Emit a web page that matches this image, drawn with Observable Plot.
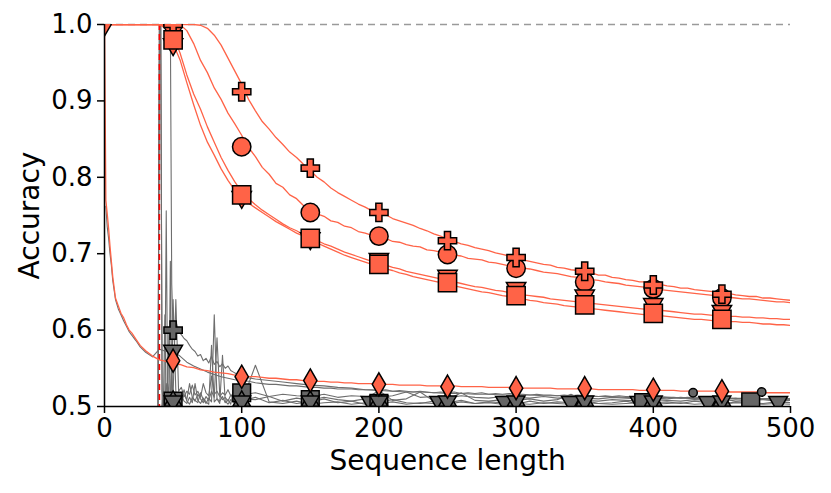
<!DOCTYPE html>
<html>
<head>
<meta charset="utf-8">
<script src="https://cdn.jsdelivr.net/npm/d3@7"></script>
<script src="https://cdn.jsdelivr.net/npm/@observablehq/plot@0.6"></script>
<style>
  html, body { margin: 0; padding: 0; background: #fff; }
  #chart { width: 831px; height: 493px; }
</style>
</head>
<body>
<div id="chart"></div>
<script>
// ---------- tick labels ----------
const xTicks = [0, 100, 200, 300, 400, 500];
const yTicks = [0.5, 0.6, 0.7, 0.8, 0.9, 1.0];

// ---------- red series (x = 0,5,...,500) ----------
const xGrid = d3.range(0, 501, 5);
const plusLine = [
  1,1,1,1,1,1,1,1,1,1,
  1,1,1,1,0.999,0.995,0.986,0.973,0.956,0.939,
  0.922,0.902,0.887,0.873,0.863,0.852,0.843,0.833,0.826,0.817,
  0.809,0.800,0.794,0.786,0.780,0.775,0.770,0.765,0.761,0.756,
  0.752,0.751,0.746,0.743,0.740,0.737,0.733,0.730,0.726,0.723,
  0.719,0.716,0.713,0.711,0.708,0.706,0.704,0.701,0.699,0.697,
  0.694,0.692,0.690,0.688,0.686,0.685,0.682,0.681,0.679,0.678,
  0.676,0.675,0.672,0.672,0.669,0.668,0.666,0.665,0.663,0.663,
  0.661,0.660,0.658,0.657,0.655,0.655,0.653,0.652,0.651,0.650,
  0.648,0.648,0.646,0.645,0.644,0.644,0.642,0.642,0.641,0.640,
  0.639
];
const circleLine = [
  1,1,1,1,1,1,1,1,1,1,
  1,1,0.992,0.975,0.953,0.937,0.917,0.902,0.884,0.870,
  0.855,0.839,0.827,0.813,0.804,0.792,0.787,0.777,0.772,0.763,
  0.758,0.752,0.749,0.743,0.741,0.736,0.734,0.729,0.727,0.724,
  0.721,0.720,0.716,0.715,0.712,0.710,0.709,0.705,0.704,0.702,
  0.700,0.698,0.697,0.694,0.693,0.692,0.689,0.688,0.686,0.684,
  0.682,0.681,0.680,0.678,0.676,0.675,0.674,0.672,0.670,0.669,
  0.667,0.666,0.665,0.663,0.662,0.661,0.659,0.658,0.657,0.656,
  0.654,0.653,0.652,0.651,0.650,0.649,0.648,0.647,0.646,0.645,
  0.644,0.643,0.642,0.641,0.641,0.640,0.639,0.638,0.637,0.637,
  0.636
];
const triLine = [
  1,1,1,1,1,1,1,1,1,0.998,
  0.985,0.963,0.934,0.909,0.889,0.866,0.846,0.826,0.809,0.794,
  0.781,0.772,0.764,0.757,0.751,0.745,0.739,0.734,0.730,0.725,
  0.721,0.717,0.713,0.710,0.706,0.702,0.699,0.696,0.693,0.690,
  0.687,0.685,0.682,0.680,0.677,0.675,0.673,0.671,0.669,0.667,
  0.665,0.663,0.661,0.659,0.657,0.656,0.654,0.652,0.651,0.649,
  0.648,0.646,0.645,0.644,0.643,0.641,0.640,0.639,0.638,0.637,
  0.636,0.635,0.634,0.633,0.632,0.631,0.630,0.629,0.628,0.627,
  0.626,0.626,0.625,0.624,0.623,0.622,0.621,0.621,0.620,0.619,
  0.619,0.618,0.618,0.617,0.617,0.616,0.616,0.615,0.615,0.614,
  0.614
];
const squareLine = [
  1,1,1,1,1,1,1,1,1,0.994,
  0.975,0.954,0.924,0.895,0.868,0.846,0.829,0.811,0.796,0.783,
  0.774,0.766,0.760,0.754,0.748,0.742,0.737,0.732,0.727,0.723,
  0.718,0.714,0.710,0.706,0.702,0.698,0.695,0.692,0.689,0.686,
  0.683,0.680,0.678,0.675,0.673,0.670,0.668,0.666,0.664,0.662,
  0.660,0.658,0.656,0.654,0.652,0.650,0.649,0.647,0.645,0.644,
  0.642,0.641,0.639,0.638,0.636,0.635,0.634,0.632,0.631,0.630,
  0.629,0.628,0.627,0.626,0.625,0.624,0.623,0.622,0.621,0.620,
  0.619,0.619,0.618,0.617,0.616,0.615,0.614,0.614,0.613,0.612,
  0.612,0.611,0.611,0.610,0.610,0.609,0.608,0.608,0.607,0.607,
  0.606
];

// diamond series and the gray series that follows it (own x grid)
const xDiamond = [0,1,2,3,4,5,6,8,10,12,14,16,18,20,23,26,30,35,40,45].concat(d3.range(50, 501, 5));
const diamondLine = [
  1.0,0.770,0.752,0.733,0.710,0.690,0.670,0.642,0.632,0.622,0.616,0.607,0.600,0.596,0.588,0.580,0.573,0.566,0.561,0.559,
  0.556,0.555,0.552,0.551,0.548,0.547,0.545,0.544,0.543,0.541,
  0.540,0.539,0.539,0.538,0.537,0.537,0.536,0.535,0.535,0.534,
  0.534,0.533,0.533,0.532,0.532,0.531,0.531,0.530,0.530,0.530,
  0.529,0.529,0.529,0.528,0.528,0.528,0.528,0.527,0.527,0.527,
  0.527,0.527,0.526,0.526,0.526,0.526,0.525,0.525,0.525,0.525,
  0.525,0.524,0.524,0.524,0.524,0.524,0.523,0.523,0.523,0.523,
  0.523,0.523,0.522,0.522,0.522,0.522,0.522,0.522,0.521,0.521,
  0.521,0.521,0.521,0.521,0.520,0.520,0.520,0.520,0.520,0.520,
  0.519,0.519,0.519,0.519,0.519,0.519,0.518,0.518,0.518,0.518,
  0.518
];
const grayFollow = [
  null,0.762,0.735,0.720,0.700,0.685,0.665,0.640,0.628,0.620,0.612,0.605,0.598,0.593,0.586,0.578,0.571,0.565,0.575,0.572,
  0.572,0.566,0.558,0.553,0.549,0.545,0.542,0.539,0.537,0.535,
  0.534,0.533,0.531,0.530,0.529,0.529,0.528,0.527,0.527,0.526,
  0.525,0.525,0.524,0.524,0.523,0.523,0.523,0.522,0.522,0.522,
  0.521,0.522,0.520,0.521,0.520,0.519,0.520,0.519,0.518,0.519,
  0.518,0.519,0.517,0.518,0.517,0.518,0.516,0.517,0.516,0.517,
  0.516,0.516,0.515,0.516,0.515,0.515,0.514,0.515,0.514,0.515,
  0.514,0.514,0.513,0.514,0.513,0.514,0.513,0.513,0.512,0.513,
  0.512,0.513,0.512,0.512,0.511,0.512,0.511,0.512,0.511,0.511,
  0.511,0.511,0.510,0.511,0.510,0.511,0.510,0.510,0.510,0.510,
  0.509
];

// ---------- gray series ----------
const xGray = [39,40,41,42,43,44,45,46,47,48,49,
  50,52,54,56,58,60,62,64,66,68,70,72,74,76,78,80,82,84,86,88,90,92,94,96,98]
  .concat(d3.range(100, 501, 10));
const grayA = [
  0.5,1.0,1.0,1.0,1.0,1.0,1.0,1.0,1.0,1.0,0.66,
  0.600,0.612,0.598,0.594,0.589,0.586,0.580,0.575,0.572,0.566,0.568,0.560,0.563,0.557,0.566,0.555,0.559,0.552,0.556,0.550,0.553,0.547,0.545,0.543,0.541,
  0.539,0.536,0.534,0.532,0.530,0.528,0.527,0.525,0.524,0.522,
  0.521,0.520,0.519,0.519,0.518,0.517,0.517,0.516,0.516,0.515,
  0.515,0.515,0.514,0.514,0.514,0.513,0.513,0.513,0.512,0.512,
  0.512,0.512,0.511,0.511,0.511,0.511,0.510,0.510,0.510,0.510,
  0.510
];
const grayB = [
  0.5,1.0,1.0,0.5,0.503,0.510,0.756,0.512,0.505,0.510,0.503,
  0.506,0.515,0.504,0.510,0.522,0.507,0.503,0.512,0.508,0.505,0.518,0.509,0.504,0.511,0.506,0.620,0.510,0.507,0.513,0.505,0.509,0.503,0.520,0.508,0.506,
  0.507,0.512,0.505,0.508,0.504,0.506,0.510,0.505,0.507,0.503,
  0.506,0.509,0.505,0.504,0.507,0.505,0.508,0.504,0.506,0.505,
  0.503,0.507,0.504,0.506,0.505,0.508,0.504,0.505,0.507,0.503,
  0.505,0.506,0.504,0.507,0.505,0.503,0.506,0.505,0.504,0.506,
  0.505
];
const grayC = [
  0.5,0.95,1.0,0.52,0.505,0.515,0.508,0.530,0.510,0.690,0.515,
  0.640,0.520,0.511,0.506,0.515,0.509,0.530,0.512,0.507,0.516,0.510,0.505,0.513,0.508,0.520,0.512,0.590,0.515,0.509,0.512,0.507,0.515,0.510,0.506,0.512,
  0.510,0.509,0.513,0.507,0.511,0.508,0.512,0.509,0.507,0.510,
  0.521,0.508,0.510,0.519,0.507,0.509,0.518,0.508,0.507,0.509,
  0.508,0.510,0.507,0.509,0.516,0.508,0.507,0.509,0.508,0.507,
  0.509,0.508,0.507,0.509,0.508,0.510,0.507,0.508,0.509,0.507,
  0.508
];
const grayD = [
  null,null,null,0.5,0.510,0.620,0.505,0.520,0.503,0.510,0.550,
  0.505,0.510,0.503,0.515,0.507,0.504,0.512,0.505,0.530,0.508,0.504,0.511,0.506,0.503,0.580,0.506,0.510,0.504,0.567,0.507,0.503,0.509,0.505,0.510,0.504,
  0.505,0.554,0.506,0.504,0.507,0.503,0.505,0.506,0.503,0.505,
  0.504,0.506,0.503,0.505,0.504,0.503,0.506,0.504,0.505,0.503,
  0.504,0.503,0.505,0.504,0.503,0.505,0.504,0.503,0.504,0.505,
  0.503,0.504,0.505,0.503,0.504,0.503,0.505,0.504,0.503,0.504,
  0.503
];
const grayE = [
  null,null,0.5,0.5,0.520,0.510,0.530,0.515,0.600,0.520,0.510,
  0.515,0.640,0.520,0.525,0.513,0.520,0.516,0.528,0.515,0.520,0.512,0.530,0.518,0.514,0.540,0.516,0.520,0.513,0.518,0.515,0.522,0.514,0.517,0.513,0.516,
  0.515,0.518,0.513,0.516,0.514,0.513,0.516,0.512,0.514,0.513,
  0.512,0.514,0.519,0.512,0.513,0.511,0.514,0.512,0.511,0.513,
  0.512,0.511,0.513,0.511,0.512,0.511,0.510,0.512,0.511,0.510,
  0.511,0.510,0.512,0.510,0.511,0.510,0.511,0.509,0.510,0.511,
  0.510
];

// ---------- markers ----------
const xMarks = [50, 100, 150, 200, 250, 300, 350, 400, 450];
const plusMarks    = [1.000, 0.912, 0.812, 0.754, 0.717, 0.695, 0.677, 0.659, 0.647];
const circleMarks  = [1.000, 0.840, 0.754, 0.723, 0.699, 0.681, 0.663, 0.654, 0.642];
const triMarks     = [0.974, 0.774, 0.720, 0.693, 0.671, 0.655, 0.645, 0.634, 0.625];
const squareMarks  = [0.980, 0.777, 0.720, 0.686, 0.662, 0.645, 0.633, 0.622, 0.614];
const xDiamondMarks = [0, 50, 100, 150, 200, 250, 300, 350, 400, 450];
const diamondMarks = [1.000, 0.560, 0.539, 0.534, 0.529, 0.526, 0.524, 0.524, 0.522, 0.520];

const grayPlusX = [50], grayPlusY = [0.600];
const grayTriTopX = [50], grayTriTopY = [0.573];
const grayHourX = [50, 100, 150, 200, 250, 300, 350, 400, 450];
const grayHourY = [0.507, 0.507, 0.507, 0.507, 0.507, 0.507, 0.507, 0.507, 0.507];
const grayWideX = [194, 244, 292, 340, 390, 440, 491];
const grayWideY = [0.506, 0.506, 0.506, 0.506, 0.506, 0.506, 0.506];
const graySquareX = [50, 100, 150, 200, 393, 471];
const graySquareY = [0.507, 0.518, 0.509, 0.504, 0.505, 0.506];
const grayCircleX = [429, 479];
const grayCircleY = [0.518, 0.519];

// ---------- helpers ----------
const pts = (xs, ys) => xs.map((x, i) => ({x, y: ys[i]})).filter(d => d.y != null && d.y !== undefined);
const triDown = {
  draw(ctx, size) {
    const y = Math.sqrt(size / (3 * Math.sqrt(3)));
    ctx.moveTo(0, 2 * y);
    ctx.lineTo(Math.sqrt(3) * y, -y);
    ctx.lineTo(-Math.sqrt(3) * y, -y);
    ctx.closePath();
  }
};
const RED = "#ff6347", GRAY_LINE = "#6e6e6e", GRAY_FILL = "#666666";
const redLine = (xs, ys) => Plot.line(pts(xs, ys), {x: "x", y: "y", stroke: RED, strokeWidth: 1.3, clip: true});
const grayLine = (xs, ys) => Plot.line(pts(xs, ys), {x: "x", y: "y", stroke: GRAY_LINE, strokeWidth: 1.1, clip: true});
const markers = (xs, ys, symbol, r, fill) => Plot.dot(pts(xs, ys), {x: "x", y: "y", symbol, r, fill, stroke: "black", strokeWidth: 1.5, clip: true});

const chart = Plot.plot({
  width: 831,
  height: 493,
  marginLeft: 104,
  marginRight: 41,
  marginTop: 24,
  marginBottom: 87,
  style: {fontFamily: "DejaVu Sans", fontSize: "26px", background: "white", color: "black"},
  x: {domain: [0, 500]},
  y: {domain: [0.5, 1.0]},
  marks: [
    Plot.ruleY([1.0], {stroke: "#9a9a9a", strokeWidth: 1.3, strokeDasharray: "7,5"}),
    grayLine(xGray, grayA),
    grayLine(xGray, grayB),
    grayLine(xGray, grayC),
    grayLine(xGray, grayD),
    grayLine(xGray, grayE),
    grayLine(xDiamond, grayFollow),
    Plot.ruleX([40], {stroke: "red", strokeWidth: 1.6, strokeDasharray: "6,4"}),
    redLine(xGrid, plusLine),
    redLine(xGrid, circleLine),
    redLine(xGrid, triLine),
    redLine(xGrid, squareLine),
    redLine(xDiamond, diamondLine),
    // gray markers
    markers(grayWideX, grayWideY, triDown, 7.0, GRAY_FILL),
    markers(graySquareX, graySquareY, "square", 10, GRAY_FILL),
    markers(grayHourX, grayHourY, "triangle", 6.6, GRAY_FILL),
    markers(grayHourX, grayHourY, triDown, 6.6, GRAY_FILL),
    markers(grayTriTopX, grayTriTopY, triDown, 7.0, GRAY_FILL),
    markers(grayPlusX, grayPlusY, "cross", 7.7, GRAY_FILL),
    markers(grayCircleX, grayCircleY, "circle", 4.2, GRAY_FILL),
    // red markers
    markers(xMarks, circleMarks, "circle", 9.2, RED),
    markers(xMarks, plusMarks, "cross", 7.7, RED),
    markers(xMarks, triMarks, triDown, 7.2, RED),
    markers(xMarks, squareMarks, "square", 10.3, RED),
    markers(xDiamondMarks, diamondMarks, "diamond", 7.0, RED),
    // axes
    Plot.axisX({ticks: xTicks, tickSize: 7, tickPadding: 5, strokeWidth: 1.5, label: null, tickFormat: d => String(d)}),
    Plot.axisY({ticks: yTicks, tickSize: 7, tickPadding: 5, strokeWidth: 1.5, label: null, tickFormat: d => d.toFixed(1)}),
    Plot.ruleX([0], {stroke: "black", strokeWidth: 1.5}),
    Plot.ruleY([0.5], {stroke: "black", strokeWidth: 1.5}),
    Plot.text(["Accuracy"], {frameAnchor: "left", textAnchor: "middle", dx: -74, rotate: -90, fontSize: 28, fill: "black"}),
    Plot.text(["Sequence length"], {frameAnchor: "bottom", textAnchor: "middle", dy: 63, fontSize: 28, fill: "black"})
  ]
});
document.getElementById("chart").appendChild(chart);
</script>
</body>
</html>
